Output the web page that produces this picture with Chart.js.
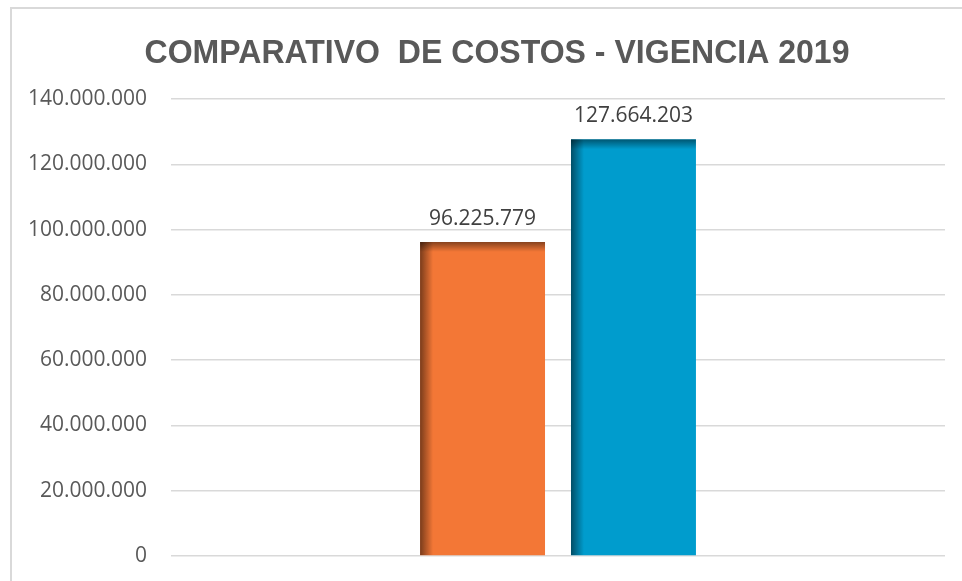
<!DOCTYPE html>
<html lang="es">

<head>
    <meta charset="UTF-8">
    <script src="https://cdn.jsdelivr.net/npm/chart.js@4.4.1/dist/chart.umd.min.js"></script>
    <title>Comparativo de costos - Vigencia 2019</title>
    <style>
        body { margin: 0; background: #fff; overflow: hidden; }
        .frame {
            position: absolute; left: 10px; top: 7px;
            width: 1000px; height: 620px;
            border: 2px solid #d9d9d9; box-sizing: border-box;
        }
        .chart-box { position: absolute; left: 0; top: 0; width: 962px; height: 581px; }
    </style>
</head>

<body>
    <div class="frame"></div>
    <div class="chart-box"><canvas id="costosChart"></canvas></div>

    <script>
        // valores de la vigencia
        const categorias = ["Vigencia 2019"];
        const costosA = [96225779];
        const costosB = [127664203];
        const escalaY = [0, 20000000, 40000000, 60000000, 80000000, 100000000, 120000000, 140000000];
        const colores = ["#f37736", "#009ccd"];
        const titulo = "COMPARATIVO  DE COSTOS - VIGENCIA 2019";

        // 127664203 -> 127.664.203
        function formatoMiles(v) {
            return String(Math.round(v)).replace(/\B(?=(\d{3})+(?!\d))/g, ".");
        }

        // titulo centrado sobre el marco del grafico, algo condensado
        const tituloGrafico = {
            id: "tituloGrafico",
            afterDraw(chart) {
                const ctx = chart.ctx;
                ctx.save();
                ctx.font = "bold 34px 'Liberation Sans', Arial, sans-serif";
                ctx.fillStyle = "#595959";
                ctx.textAlign = "center";
                ctx.textBaseline = "alphabetic";
                ctx.fillText(titulo, 497, 63, 705);
                ctx.restore();
            }
        };

        // sombreado tipo bisel en el borde izquierdo y superior de cada barra
        const biselBarras = {
            id: "biselBarras",
            afterDatasetDraw(chart, args) {
                const ctx = chart.ctx;
                args.meta.data.forEach(function (bar) {
                    const left = bar.x - bar.width / 2;
                    const top = bar.y;
                    const h = bar.base - bar.y;
                    ctx.save();
                    ctx.beginPath();
                    ctx.rect(left, top, bar.width, h);
                    ctx.clip();
                    let g = ctx.createLinearGradient(left, 0, left + 13, 0);
                    g.addColorStop(0, "rgba(0,0,0,0.5)");
                    g.addColorStop(1, "rgba(0,0,0,0)");
                    ctx.fillStyle = g;
                    ctx.fillRect(left, top, 13, h);
                    g = ctx.createLinearGradient(0, top, 0, top + 10);
                    g.addColorStop(0, "rgba(0,0,0,0.45)");
                    g.addColorStop(1, "rgba(0,0,0,0)");
                    ctx.fillStyle = g;
                    ctx.fillRect(left, top, bar.width, 10);
                    ctx.restore();
                });
            }
        };

        // etiqueta con el valor encima de cada barra
        const etiquetasValor = {
            id: "etiquetasValor",
            afterDatasetsDraw(chart) {
                const ctx = chart.ctx;
                ctx.save();
                ctx.font = "21px 'Open Sans'";
                ctx.fillStyle = "#404040";
                ctx.textAlign = "center";
                ctx.textBaseline = "alphabetic";
                chart.data.datasets.forEach(function (ds, i) {
                    chart.getDatasetMeta(i).data.forEach(function (bar, j) {
                        ctx.fillText(formatoMiles(ds.data[j]), bar.x, bar.y - 17);
                    });
                });
                ctx.restore();
            }
        };

        new Chart("costosChart", {
            type: "bar",
            data: {
                labels: categorias,
                datasets: [{
                    label: "Costo A",
                    data: costosA,
                    backgroundColor: colores[0]
                }, {
                    label: "Costo B",
                    data: costosB,
                    backgroundColor: colores[1]
                }]
            },
            options: {
                responsive: true,
                maintainAspectRatio: false,
                animation: false,
                categoryPercentage: 0.39,
                barPercentage: 0.828,
                layout: {
                    padding: { left: 10, right: 17, top: 99, bottom: 25 }
                },
                plugins: {
                    legend: { display: false },
                    tooltip: { enabled: false },
                    title: { display: false }
                },
                scales: {
                    x: {
                        display: false
                    },
                    y: {
                        min: escalaY[0],
                        max: escalaY[escalaY.length - 1],
                        afterBuildTicks(scale) {
                            scale.ticks = escalaY.map(function (v) { return { value: v }; });
                        },
                        afterFit(scale) {
                            scale.width = 161;
                        },
                        border: { display: false },
                        // marcas de 24px invisibles para separar las etiquetas de la rejilla
                        grid: { color: "#d9d9d9", lineWidth: 1.5, drawTicks: true, tickLength: 24, tickColor: "rgba(0,0,0,0)" },
                        ticks: {
                            padding: 0,
                            color: "#595959",
                            font: { family: "'Open Sans'", size: 21 },
                            callback: function (v) { return formatoMiles(v); }
                        }
                    }
                }
            },
            plugins: [tituloGrafico, biselBarras, etiquetasValor]
        });
    </script>
</body>

</html>
